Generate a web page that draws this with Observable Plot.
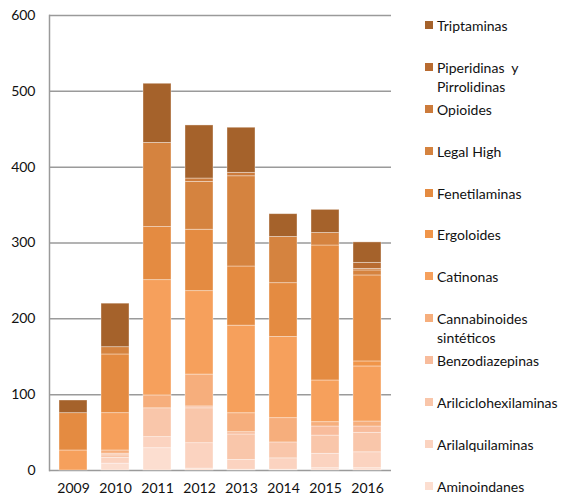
<!DOCTYPE html>
<html>
<head>
<meta charset="utf-8">
<script src="https://cdn.jsdelivr.net/npm/d3@7"></script>
<script src="https://cdn.jsdelivr.net/npm/@observablehq/plot@0.6"></script>
<style>
  html, body { margin: 0; padding: 0; background: #fff; }
  #wrap { position: relative; width: 563px; height: 502px; font-family: "Lato", "Open Sans", sans-serif; }
  #legend { position: absolute; left: 425px; top: 16px; width: 138px; }
  .item { height: 41.9px; display: flex; align-items: flex-start; }
  .sw { width: 8px; height: 8px; margin-top: 5px; margin-right: 4px; flex: none; }
  .lab { font-size: 14px; line-height: 19px; color: #111; white-space: pre; }
</style>
</head>
<body>
<div id="wrap"><div id="chart"></div><div id="legend"></div></div>
<script>
const years = ["2009", "2010", "2011", "2012", "2013", "2014", "2015", "2016"];
const yTicks = [0, 100, 200, 300, 400, 500, 600];

// legend order (top to bottom) = stacking order reversed
const legendLabels = ["Triptaminas", "Piperidinas  y\nPirrolidinas", "Opioides", "Legal High", "Fenetilaminas",
  "Ergoloides", "Catinonas", "Cannabinoides\nsintéticos", "Benzodiazepinas", "Arilciclohexilaminas",
  "Arilalquilaminas", "Aminoindanes"];
const colors = ["#A5622B", "#B86B30", "#CC7B3B", "#D5833F", "#E48B41", "#F09549", "#F6A05C",
  "#F6AE7C", "#F8BC9C", "#F9C6AA", "#FBD3C0", "#FCDED0"];

const triptaminas          = [16.7, 57.4, 78, 70, 59.5, 30, 30.5, 27];
const piperidinas          = [0, 0, 0, 0, 0, 0, 0, 8];
const opioides             = [0, 0, 0, 4.5, 4.5, 0, 0, 2];
const legalHigh            = [0, 9.6, 111, 63, 119, 61, 16.5, 6.6];
const fenetilaminas        = [49.2, 77.4, 70, 81, 78, 71, 178, 113.4];
const ergoloides           = [0, 0, 0, 0, 0, 0, 0, 6.6];
const catinonas            = [26.4, 49.2, 152, 110, 115.5, 107, 55, 72.6];
const cannabinoides        = [0, 4.2, 17, 42, 25, 32, 5.7, 6.6];
const benzodiazepinas      = [0, 2.2, 0, 2.5, 3, 0, 12, 8.3];
const arilciclohexilaminas = [0, 3.5, 38, 46, 33.5, 21, 24, 25.7];
const arilalquilaminas     = [0, 7.5, 14.6, 33.5, 13, 15, 19, 21];
const aminoindanes         = [0, 9, 29.4, 2.5, 1, 1, 3, 3];

const seriesTopDown = [triptaminas, piperidinas, opioides, legalHigh, fenetilaminas, ergoloides,
  catinonas, cannabinoides, benzodiazepinas, arilciclohexilaminas, arilalquilaminas, aminoindanes];

// build table bottom-up so the stack order matches
const data = [];
for (let i = seriesTopDown.length - 1; i >= 0; i--) {
  seriesTopDown[i].forEach((v, j) => {
    if (v > 0) data.push({year: years[j], category: legendLabels[i], value: v});
  });
}

const chart = Plot.plot({
  width: 563,
  height: 502,
  marginLeft: 49,
  marginRight: 172,
  marginTop: 15,
  marginBottom: 32,
  style: {fontFamily: "Lato, 'Open Sans', sans-serif", fontSize: "14px", color: "#111", background: "#fff"},
  x: {domain: years, paddingInner: 0.34, paddingOuter: 0.19, label: null, tickSize: 0, tickPadding: 13},
  y: {domain: [0, 600], ticks: yTicks, label: null, tickSize: 0, tickPadding: 14, tickFormat: d => String(d)},
  color: {domain: legendLabels, range: colors},
  marks: [
    Plot.gridY(yTicks, {stroke: "#9a9a9a", strokeOpacity: 1, strokeWidth: 1.5}),
    Plot.frame({anchor: "left", stroke: "#9a9a9a", strokeWidth: 1.5}),
    Plot.barY(data, {x: "year", y: "value", fill: "category", stroke: "#ffffff", strokeOpacity: 0.45, strokeWidth: 0.8})
  ]
});
document.getElementById("chart").appendChild(chart);

const legend = document.getElementById("legend");
legendLabels.forEach((lab, i) => {
  const it = document.createElement("div");
  it.className = "item";
  const sw = document.createElement("div");
  sw.className = "sw";
  sw.style.background = colors[i];
  const t = document.createElement("div");
  t.className = "lab";
  t.textContent = lab;
  it.appendChild(sw);
  it.appendChild(t);
  legend.appendChild(it);
});
</script>
</body>
</html>
